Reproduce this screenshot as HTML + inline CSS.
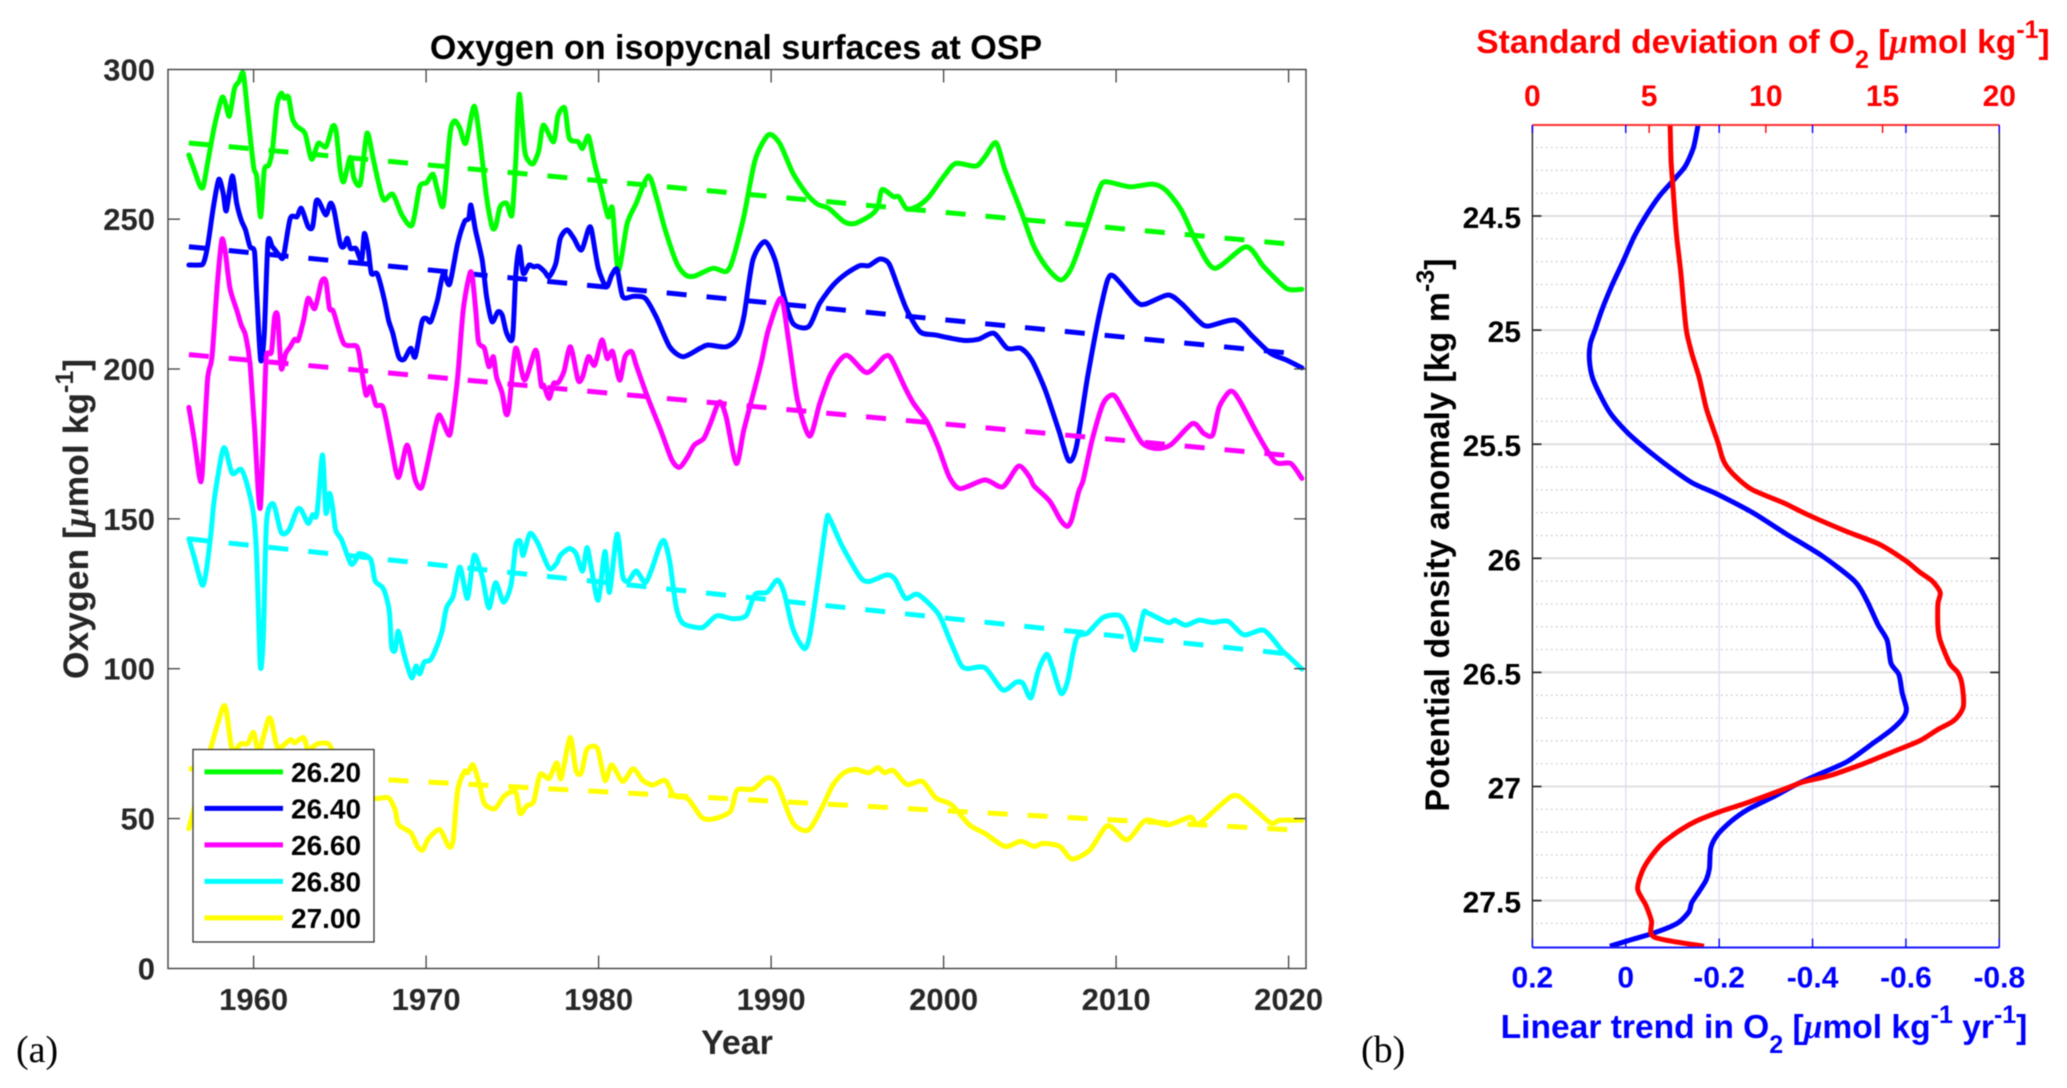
<!DOCTYPE html>
<html>
<head>
<meta charset="utf-8">
<title>Oxygen on isopycnal surfaces at OSP</title>
<style>
html,body{margin:0;padding:0;background:#fff;width:2067px;height:1088px;overflow:hidden}
svg{display:block;filter:blur(0.5px)}
text{font-family:"Liberation Sans",sans-serif;font-weight:bold;white-space:pre}
.mu{font-family:"Liberation Serif",serif;font-style:italic}
.panel-tag{font-family:"Liberation Serif",serif;font-weight:normal;font-size:38px;fill:#000}
</style>
</head>
<body>
<svg id="fig" xmlns="http://www.w3.org/2000/svg" width="2067" height="1088" viewBox="0 0 2067 1088">
  <rect x="0" y="0" width="2067" height="1088" fill="#fff"/>

  <g id="panelA">
    <g id="aMarks"></g>
    <g id="aAxes"></g>
    <text x="736" y="59" font-size="34" text-anchor="middle" fill="#000">Oxygen on isopycnal surfaces at OSP</text>
    <text x="737" y="1054" font-size="34" text-anchor="middle" fill="#262626">Year</text>
    <text transform="translate(88,519) rotate(-90)" font-size="35.5" text-anchor="middle" fill="#262626">Oxygen [<tspan class="mu">μ</tspan>mol kg<tspan font-size="25" dy="-15">-1</tspan><tspan dy="15">]</tspan></text>
    <g id="legend"></g>
    <text class="panel-tag" x="16" y="1062">(a)</text>
  </g>

  <g id="panelB">
    <g id="bGrid"></g>
    <g id="bMarks"></g>
    <g id="bAxes"></g>
    <text x="1763" y="53" font-size="33.6" text-anchor="middle" fill="#f00">Standard deviation of O<tspan font-size="25" dy="15">2</tspan><tspan dy="-15"> [</tspan><tspan class="mu">μ</tspan>mol kg<tspan font-size="25" dy="-15">-1</tspan><tspan dy="15">]</tspan></text>
    <text x="1764" y="1038" font-size="33.6" text-anchor="middle" fill="#00f">Linear trend in O<tspan font-size="25" dy="15">2</tspan><tspan dy="-15"> [</tspan><tspan class="mu">μ</tspan>mol kg<tspan font-size="25" dy="-15">-1</tspan><tspan dy="15"> yr</tspan><tspan font-size="25" dy="-15">-1</tspan><tspan dy="15">]</tspan></text>
    <text transform="translate(1449,535) rotate(-90)" font-size="34" text-anchor="middle" fill="#000">Potential density anomaly [kg m<tspan font-size="25" dy="-15">-3</tspan><tspan dy="15">]</tspan></text>
    <text class="panel-tag" x="1361" y="1062">(b)</text>
  </g>
</svg>

<script>
// ---------- Panel (a) data ----------
var greenYears = [1956.25,1956.56,1956.87,1957.08,1957.33,1957.72,1958.16,1958.37,1958.6,1958.89,1959.15,1959.4,1959.66,1960,1960.18,1960.41,1960.62,1960.88,1961.09,1961.35,1961.6,1961.79,1962.02,1962.25,1962.5,1962.98,1963.36,1963.75,1964.2,1964.58,1964.79,1965.02,1965.23,1965.6,1965.82,1966.19,1966.57,1966.91,1967.25,1967.56,1968.07,1968.6,1969.19,1969.63,1970.02,1970.4,1970.66,1971,1971.39,1971.65,1971.96,1972.3,1972.78,1973.12,1973.5,1973.82,1974.03,1974.29,1974.67,1974.98,1975.2,1975.4,1975.71,1975.97,1976.23,1976.54,1976.8,1977.39,1977.65,1978.04,1978.3,1978.81,1979.07,1979.41,1979.72,1980.11,1980.55,1980.8,1981.14,1981.66,1982.18,1982.88,1983.34,1983.86,1984.54,1985.06,1985.57,1986.61,1987.39,1987.77,1988.42,1989.07,1989.84,1990.49,1991.27,1992.04,1992.69,1993.34,1994.24,1994.89,1995.8,1996.19,1996.44,1997.09,1997.4,1997.87,1998.51,1999.16,2000.07,2000.71,2001.88,2002.4,2003.04,2003.56,2004.47,2005.24,2006.02,2006.8,2007.44,2008.35,2009,2009.38,2010.81,2012.1,2012.88,2013.78,2014.69,2015.72,2017.54,2018.57,2019.87,2020.77];
var greenValues = [271.4,266.4,261.4,260.8,268.6,280.8,290.5,288.6,284.4,293.6,295.9,298.6,285.3,267.5,264.2,250.8,266.4,268,273,288,292,290.3,290.8,283.6,281,278.6,270,275.3,274.2,281,279.2,266.4,262.5,270.6,263.6,261.9,278.6,270.8,261.9,256.4,258.3,251.4,248,260.8,262.1,265,259.7,254.7,278.6,282.8,280.3,275.3,287.7,276.4,257.5,247.5,247.5,254.1,255.3,251.4,269.7,291.7,273,269.2,268.6,273,281.4,275.8,284.7,287,277,275.8,273.6,277.7,269.7,260.8,250.8,253.6,233,248.6,255.3,264.4,257.5,246.4,235.2,231.3,231,233.6,232.5,236.3,250.8,269.7,278.1,275.3,265.3,258.6,255,253.6,249.1,248.6,251.4,254.1,259.9,257.5,257.5,253.4,254.4,257.5,264.7,268.6,267.7,270.8,275.5,266.4,253,240.8,233.6,229.7,234.1,248.6,259.7,262.5,260.8,261.7,259.7,253,241.9,233.6,240.8,234.1,226.9,226.6];

var blueYears = [1956.25,1956.82,1957.08,1957.33,1957.67,1957.98,1958.24,1958.42,1958.76,1959.02,1959.28,1959.53,1959.79,1960.05,1960.18,1960.41,1960.62,1960.83,1961.09,1961.48,1961.73,1962.12,1962.51,1962.77,1963.16,1963.42,1963.62,1963.8,1964.19,1964.45,1964.66,1965.02,1965.23,1965.43,1965.62,1965.93,1966.26,1966.42,1966.65,1966.83,1967.17,1967.56,1967.82,1968.07,1968.41,1968.72,1969.11,1969.37,1969.76,1970.02,1970.27,1970.66,1971,1971.36,1971.83,1972.22,1972.47,1972.6,1972.86,1973.25,1973.51,1973.82,1974.16,1974.41,1974.67,1975.01,1975.19,1975.4,1975.63,1975.97,1976.23,1976.49,1976.87,1977.13,1977.52,1977.78,1978.17,1978.56,1979,1979.41,1979.59,1979.98,1980.45,1980.76,1981.07,1981.4,1982.05,1982.7,1983.34,1984.12,1984.9,1985.88,1986.35,1987.39,1988.03,1988.42,1988.94,1989.64,1990.23,1990.75,1991.27,1992.17,1992.82,1993.6,1994.37,1995.15,1995.67,1996.31,1996.83,1997.35,1997.87,1998.64,1999.55,2001.1,2002.01,2002.91,2003.69,2004.47,2005.11,2005.89,2006.67,2007.26,2007.7,2008.35,2009,2009.51,2009.9,2011.2,2011.71,2013.01,2013.78,2014.82,2015.34,2016.89,2017.92,2018.96,2019.87,2020.77];
var blueValues = [234.7,234.7,235.2,240.8,254.1,263.3,258.6,252.8,264.4,255.3,249.7,246.4,240.8,239.1,225.2,203,211.9,242.1,240.8,238,237.5,250.2,250.8,253.6,247.5,247.5,255.8,255.8,251.4,255.3,253,241.9,240.8,243.6,240.2,240.2,236.3,245.2,239.7,231.9,231.7,223.6,216.3,211.9,204.1,203.2,206.9,204.1,215.8,216.9,215.8,223,231.9,228.3,241.9,249.1,250.2,254.7,246.4,236.3,224.1,215.8,219.1,218,211.9,210.4,230.8,240.8,231.9,234.7,234.1,234.3,232.5,230.8,235.2,243.6,246.4,243.6,239.7,246.6,246.4,233.6,227.4,231.3,233.2,224.1,224.3,223.6,217.4,207.4,204.1,206.9,208,207.4,210.2,217.4,236.3,242.5,236.3,224.1,215.2,214.1,221.9,228,231.9,234.5,234.5,236.7,235.2,227.4,219.7,212.4,211.3,209.6,209.9,211.9,206.9,206.9,203,193,179.6,169.4,174.1,197.4,217.4,229.7,230.8,222.4,221.7,224.7,221.9,215.8,214.3,216.3,210.8,205.2,203,200.4];

var magentaYears = [1956.25,1956.56,1956.87,1957.02,1957.33,1957.59,1957.9,1958.16,1958.37,1958.63,1959.02,1959.28,1959.53,1959.79,1960.05,1960.39,1960.7,1960.83,1961.04,1961.22,1961.4,1961.6,1961.86,1962.12,1962.38,1962.59,1962.9,1963.16,1963.55,1963.93,1964.19,1964.4,1964.63,1965.23,1966,1966.26,1966.52,1966.78,1967.09,1967.51,1967.95,1968.39,1968.9,1969.37,1969.76,1970.27,1970.58,1970.79,1971.26,1971.44,1971.83,1972.16,1972.6,1972.86,1973.04,1973.38,1973.64,1973.9,1974.08,1974.41,1974.62,1974.8,1975.19,1975.71,1976.36,1976.67,1976.82,1977.13,1977.39,1977.65,1977.99,1978.37,1978.81,1979.07,1979.41,1979.77,1980.19,1980.5,1980.81,1981.22,1981.53,1981.92,1982.18,1982.83,1983.6,1984.25,1984.69,1985.16,1985.54,1986.09,1986.48,1987,1987.39,1987.98,1988.42,1989.07,1989.46,1989.84,1990.57,1991.01,1991.53,1992.23,1992.82,1993.47,1994.37,1995.54,1996.57,1996.96,1997.74,1998.26,1999.03,1999.68,2000.33,2000.97,2002.4,2003.43,2004.34,2004.98,2005.24,2006.15,2006.8,2007.18,2007.44,2007.83,2008.09,2008.61,2009.25,2009.85,2010.42,2011.45,2012.23,2013.14,2014.43,2015.08,2015.6,2015.98,2016.63,2017.15,2018.18,2019.22,2020.12,2020.77];
var magentaValues = [187.2,176.3,163.8,165.2,196.3,204.1,228.6,243.2,238.6,226.9,219.7,214.7,211.3,201.9,180.7,153.7,200.8,205.2,205.8,217.4,217.4,200.2,205.2,207.4,209.9,209.7,216.3,223.6,220.2,229.1,229.3,220.2,219.1,208.5,207.4,199.6,191.3,194.1,188,187.2,175.2,163.8,174.6,163,160.7,173.5,181.8,184.6,178.5,179.6,197.4,220.2,232.5,220.8,209.1,206.9,200.8,204.1,197.4,191.9,185.2,186.9,206.9,196.3,206.3,194.6,194.6,190.2,195.2,195.4,199.1,207.4,196.3,197.4,204.1,201.3,209.7,203.5,205.8,196.3,204.1,205.8,201.3,190.8,179.6,169.6,167.2,170.7,174.6,176.8,181.8,189,184.1,168.5,179.6,194.1,203,213,223.6,209.7,189.6,177.6,188.5,198.5,204.6,198.8,204.1,203.5,194.1,188.5,182.4,174.1,164,160.1,163,160.7,167.6,164,161,155.9,149.4,147.5,150,159.1,162.9,176.3,188.5,191.3,186.3,175.7,173.5,174.6,181.8,178.5,178,187.4,192.6,189.6,178.5,169,168.5,163.5];

var cyanYears = [1956.25,1956.56,1957,1957.2,1957.52,1957.72,1958.16,1958.37,1958.76,1959.28,1959.66,1960,1960.18,1960.39,1960.57,1960.75,1961.14,1961.6,1962.04,1962.51,1962.77,1963.16,1963.42,1963.67,1963.99,1964.19,1964.4,1964.58,1964.76,1965.1,1965.62,1965.87,1966.13,1966.78,1967.04,1967.43,1967.61,1967.87,1968,1968.2,1968.39,1968.72,1969.16,1969.42,1969.63,1969.89,1970.22,1970.53,1970.92,1971.18,1971.57,1971.96,1972.4,1972.78,1973.25,1973.64,1974.03,1974.49,1974.93,1975.19,1975.45,1975.63,1976.02,1976.49,1977.13,1977.57,1977.78,1978.3,1978.69,1979.07,1979.33,1979.59,1979.98,1980.37,1980.63,1981.07,1981.4,1981.74,1982.18,1982.7,1983.08,1983.55,1983.81,1984.12,1984.51,1984.9,1985.88,1986.22,1986.87,1987.77,1988.55,1989.07,1989.77,1990.36,1990.75,1991.27,1991.92,1992.25,1992.69,1993.21,1993.39,1994.11,1995.15,1995.67,1996.7,1997.17,1997.79,1998.51,1999.68,2000.33,2000.97,2001.36,2002.4,2003.43,2004.21,2004.6,2005.06,2005.5,2005.97,2006.28,2006.8,2007.18,2007.7,2008.35,2009.25,2010.21,2010.68,2011.07,2011.58,2011.84,2013.01,2013.4,2014.04,2014.82,2015.6,2016.5,2017.41,2018.57,2019.61,2020,2020.77];
var cyanValues = [143.3,137.1,128.1,130.7,144.9,156.5,171.8,173.2,165.2,166.5,160.7,151.4,137.1,100.9,111.3,148.8,155,145.5,146.2,152.9,152.9,148.5,151.4,151.6,171.3,152,158.5,153.9,146.2,143,135.2,135.8,138.4,136.5,129.4,127.4,125.5,119,107.4,106.1,112.5,104.8,97,100.9,98.3,102.2,102.8,106.1,112.5,120.3,124.2,133.9,123.5,137.8,130.7,120.3,128.7,122.2,128.1,141,142.6,137.8,145.1,141.7,133.5,135.2,137.8,140.1,138.4,132.6,140.4,133.2,122.9,139.1,125.5,144.9,130.7,129.4,132.6,128.7,133.2,141,142.6,135.8,120.3,115.1,113.6,114.5,117.7,116.7,117.7,124.8,125.5,129.6,125.5,113.2,106.7,111.3,128.1,149.4,150.1,141,130.7,129.1,131.3,130,123.5,124.8,118.4,110,101.6,100,100.3,92.9,95.5,95.1,90.3,99.6,104.8,100.9,91.8,95.7,110,111.9,117.1,117.7,113.2,106.3,118.4,118.6,115.4,116.2,114.5,116.2,115.4,115.8,111.3,112.8,106.1,104.1,99.9];

var yellowYears = [1956.25,1956.82,1957.46,1958.19,1958.42,1958.76,1959.28,1959.66,1960,1960.31,1960.83,1961.04,1961.4,1962.12,1962.38,1962.9,1963.16,1963.73,1964.32,1964.58,1965.23,1966,1967.04,1967.82,1968.2,1968.41,1969.11,1969.5,1969.81,1970.14,1970.79,1971.31,1971.57,1971.83,1972.22,1972.42,1972.73,1973.12,1973.38,1973.98,1974.54,1975.19,1975.45,1975.84,1976.23,1976.61,1977.13,1977.57,1977.83,1978.35,1978.69,1979,1979.33,1979.93,1980.37,1980.76,1981.4,1982,1982.57,1983.14,1983.86,1984.38,1985.16,1985.96,1986.61,1987.64,1988.03,1988.94,1989.77,1990.36,1991.27,1992.17,1992.95,1993.6,1994.24,1994.89,1995.67,1996.19,1996.57,1997.09,1997.87,1998.77,1999.55,2000.46,2001.49,2002.4,2003.56,2004.47,2005.24,2005.76,2006.74,2007.44,2008.48,2009.51,2010.63,2011.71,2013.01,2014.3,2014.82,2016.76,2017.79,2018.96,2019.48,2020.77];
var yellowValues = [46.6,59.5,72.4,86.7,86,73.1,75,75,78.7,72.4,82.8,82.5,73.7,76.3,75.3,77,73.1,75,75,72.4,64.7,58.2,56.7,56.9,53,47.9,45.3,40.7,39.5,43.3,46.3,40.7,42.7,59.5,65.7,65.3,67.9,60.8,55,53.3,57.6,58.9,51.7,54.3,55.6,64.7,63.4,68.6,63.4,77,66,65.3,73.1,73.4,62.7,67.9,62.4,66.6,62.7,61.2,62.7,57.6,56.7,50.5,49.8,52.4,59.5,59.8,63.6,61.4,48.5,46.2,53.7,61.4,65.3,66.4,65.3,67,65.3,66,61.4,62.4,56.9,54.6,47.9,45,40.7,42.4,40.7,41.7,40.7,36.5,39.5,47.6,42.9,49.4,47.9,50.5,48.3,57.6,54.3,48.5,49.4,49.4];

var trendYears = [1956.25, 2020.2];
var greenTrend = [275.4, 241.6];
var blueTrend = [240.8, 205.2];
var magentaTrend = [204.8, 171];
var cyanTrend = [143.3, 104.8];
var yellowTrend = [66.6, 46.2];

var legendLabels = ["26.20","26.40","26.60","26.80","27.00"];
var yearTicks = [1960,1970,1980,1990,2000,2010,2020];
var oxygenTicks = [0,50,100,150,200,250,300];

// ---------- Panel (b) data ----------
var stdValues = [5.9,5.94,6.02,6.1,6.19,6.35,6.49,6.61,6.85,7.15,7.44,7.7,7.94,8.14,8.34,8.79,9.43,10.82,11.81,13.4,14.89,15.98,16.58,17.13,17.47,17.37,17.37,17.47,17.87,18.22,18.4,18.46,18.07,17.37,16.58,15.39,14.19,12.81,11.61,10.82,9.23,8.04,7.05,6.35,5.56,5.06,4.71,4.51,4.86,5.1,5.22,7.35];
var stdDensity = [24.1,24.26,24.37,24.49,24.6,24.74,24.9,25.01,25.11,25.21,25.34,25.42,25.49,25.56,25.6,25.65,25.7,25.76,25.81,25.88,25.94,26.01,26.06,26.1,26.15,26.2,26.3,26.36,26.46,26.5,26.55,26.65,26.71,26.75,26.8,26.85,26.9,26.95,26.98,27.01,27.07,27.11,27.15,27.19,27.25,27.31,27.37,27.45,27.52,27.59,27.66,27.7];
var trendValues = [-0.155,-0.145,-0.128,-0.108,-0.073,-0.043,-0.018,0.006,0.031,0.051,0.066,0.076,0.078,0.071,0.051,0.031,-0.004,-0.043,-0.093,-0.143,-0.197,-0.272,-0.341,-0.421,-0.49,-0.515,-0.54,-0.56,-0.568,-0.585,-0.592,-0.601,-0.594,-0.57,-0.53,-0.475,-0.421,-0.366,-0.321,-0.262,-0.227,-0.197,-0.182,-0.179,-0.172,-0.157,-0.141,-0.135,-0.11,-0.063,-0.014,0.034];
var trendDensity = [24.1,24.2,24.28,24.33,24.41,24.5,24.59,24.7,24.81,24.91,25,25.06,25.13,25.21,25.3,25.37,25.45,25.52,25.6,25.67,25.72,25.8,25.89,25.99,26.1,26.18,26.29,26.36,26.46,26.51,26.59,26.66,26.7,26.75,26.81,26.89,26.94,26.99,27.04,27.1,27.15,27.21,27.27,27.36,27.41,27.46,27.51,27.55,27.6,27.64,27.67,27.7];

var densityTicks = [24.5,25,25.5,26,26.5,27,27.5];
var densityTickLabels = ["24.5","25","25.5","26","26.5","27","27.5"];
var densityMinor = [24.2,24.3,24.4,24.6,24.7,24.8,24.9,25.1,25.2,25.3,25.4,25.6,25.7,25.8,25.9,26.1,26.2,26.3,26.4,26.6,26.7,26.8,26.9,27.1,27.2,27.3,27.4,27.6];
var stdTicks = [0,5,10,15,20];
var trendTicks = [0.2,0,-0.2,-0.4,-0.6,-0.8];

// ---------- Axis functions ----------
function xA(year){ return 253.6 + (year - 1960) * 17.25; }
function yA(v){ return 968.4 - v * 2.997; }
function xStd(v){ return 1532.4 + v * 23.345; }
function xTrend(v){ return 1532.4 + (0.2 - v) * 466.9; }
function yB(d){ return 216 + (d - 24.5) * 228.2; }

var NS = 'http://www.w3.org/2000/svg';
function make(parent, tag, attrs){
  var el = document.createElementNS(NS, tag);
  for (var k in attrs){ el.setAttribute(k, attrs[k]); }
  parent.appendChild(el);
  return el;
}
function pts(xs, ys, fx, fy){
  var out = [];
  for (var i = 0; i < xs.length; i++){ out.push(fx(xs[i]).toFixed(1) + ',' + fy(ys[i]).toFixed(1)); }
  return out.join(' ');
}
function smoothPath(xs, ys, fx, fy){
  var P = [];
  for (var i = 0; i < xs.length; i++){ P.push([fx(xs[i]), fy(ys[i])]); }
  var k = 0.13;
  var d = 'M' + P[0][0].toFixed(1) + ' ' + P[0][1].toFixed(1);
  for (var j = 0; j < P.length - 1; j++){
    var p0 = P[j - 1] || P[j], p1 = P[j], p2 = P[j + 1], p3 = P[j + 2] || P[j + 1];
    d += 'C' + (p1[0] + (p2[0] - p0[0]) * k).toFixed(1) + ' ' + (p1[1] + (p2[1] - p0[1]) * k).toFixed(1) + ' ' +
         (p2[0] - (p3[0] - p1[0]) * k).toFixed(1) + ' ' + (p2[1] - (p3[1] - p1[1]) * k).toFixed(1) + ' ' +
         p2[0].toFixed(1) + ' ' + p2[1].toFixed(1);
  }
  return d;
}

// ---------- Panel (a) marks ----------
var aMarks = document.getElementById('aMarks');
var aSeries = [
  {name:'26-20', color:'#00ff00', yrs:greenYears, vals:greenValues, tr:greenTrend},
  {name:'26-40', color:'#0000ff', yrs:blueYears, vals:blueValues, tr:blueTrend},
  {name:'26-60', color:'#ff00ff', yrs:magentaYears, vals:magentaValues, tr:magentaTrend},
  {name:'26-80', color:'#00ffff', yrs:cyanYears, vals:cyanValues, tr:cyanTrend},
  {name:'27-00', color:'#ffff00', yrs:yellowYears, vals:yellowValues, tr:yellowTrend}
];
aSeries.forEach(function(s){
  var line = make(aMarks, 'path', {d:smoothPath(s.yrs, s.vals, xA, yA), fill:'none', stroke:s.color, 'stroke-width':5, 'stroke-linejoin':'round', 'stroke-linecap':'round'});
  
  
  var dash = make(aMarks, 'polyline', {points:pts(trendYears, s.tr, xA, yA), fill:'none', stroke:s.color, 'stroke-width':5, 'stroke-dasharray':'20 20'});
  
  
});

// ---------- Panel (a) axes ----------
var aAxes = document.getElementById('aAxes');
var aBox = make(aAxes, 'rect', {x:168, y:69.5, width:1138, height:899, fill:'none', stroke:'#404040', 'stroke-width':1.4});


yearTicks.forEach(function(t){
  var x = xA(t);
  var tb = make(aAxes, 'line', {x1:x, x2:x, y1:968.5, y2:955.5, stroke:'#404040', 'stroke-width':1.3});
  
  
  var tt = make(aAxes, 'line', {x1:x, x2:x, y1:69.5, y2:82.5, stroke:'#404040', 'stroke-width':1.3});
  
  
  var lab = make(aAxes, 'text', {x:x, y:1010, 'font-size':31, 'text-anchor':'middle', fill:'#262626'});
  
  
  lab.textContent = String(t);
});
oxygenTicks.forEach(function(t){
  var y = yA(t);
  if (t !== 0 && t !== 300){
    var tl = make(aAxes, 'line', {x1:168, x2:180, y1:y, y2:y, stroke:'#404040', 'stroke-width':1.3});
    
    
    var tr = make(aAxes, 'line', {x1:1306, x2:1294, y1:y, y2:y, stroke:'#404040', 'stroke-width':1.3});
    
    
  }
  var lab = make(aAxes, 'text', {x:155, y:y + 11, 'font-size':31, 'text-anchor':'end', fill:'#262626'});
  
  
  lab.textContent = String(t);
});

// ---------- Legend ----------
var legend = document.getElementById('legend');
var legBox = make(legend, 'rect', {x:193, y:749.5, width:181, height:192.5, fill:'#fff', stroke:'#333', 'stroke-width':1.3});


legendLabels.forEach(function(lbl, i){
  var y = 771.9 + i * 36.5;
  var sw = make(legend, 'line', {x1:204.5, x2:283, y1:y, y2:y, stroke:aSeries[i].color, 'stroke-width':5});
  
  
  var tx = make(legend, 'text', {x:291, y:y + 10, 'font-size':28, fill:'#000'});
  
  
  tx.textContent = lbl;
});

// ---------- Panel (b) grid ----------
var bGrid = document.getElementById('bGrid');
densityMinor.forEach(function(d){
  var y = yB(d);
  var g = make(bGrid, 'line', {x1:1536, x2:1997, y1:y, y2:y, stroke:'#c4c4c4', 'stroke-width':1.2, 'stroke-dasharray':'1.5 3.5'});
  
  
});
densityTicks.forEach(function(d){
  var y = yB(d);
  var g = make(bGrid, 'line', {x1:1532.4, x2:1999.3, y1:y, y2:y, stroke:'#e0e0e0', 'stroke-width':2});
  
  
});
trendTicks.forEach(function(v){
  if (v === 0.2 || v === -0.8) { return; }
  var x = xTrend(v);
  var g = make(bGrid, 'line', {x1:x, x2:x, y1:125, y2:947.5, stroke:'#dcdcf8', 'stroke-width':1.3});
  
  
});

// ---------- Panel (b) marks ----------
var bMarks = document.getElementById('bMarks');
var trendProfile = make(bMarks, 'path', {d:smoothPath(trendValues, trendDensity, xTrend, yB), fill:'none', stroke:'#0000ff', 'stroke-width':5, 'stroke-linejoin':'round'});


var stdProfile = make(bMarks, 'path', {d:smoothPath(stdValues, stdDensity, xStd, yB), fill:'none', stroke:'#ff0000', 'stroke-width':5, 'stroke-linejoin':'round'});



// ---------- Panel (b) axes ----------
var bAxes = document.getElementById('bAxes');
var bl = make(bAxes, 'line', {x1:1532.4, x2:1532.4, y1:125, y2:947.5, stroke:'#222', 'stroke-width':1.4});


var br = make(bAxes, 'line', {x1:1999.3, x2:1999.3, y1:125, y2:947.5, stroke:'#222', 'stroke-width':1.4});


var bt = make(bAxes, 'line', {x1:1532.4, x2:1999.3, y1:125, y2:125, stroke:'#ff3030', 'stroke-width':2});


var bb = make(bAxes, 'line', {x1:1532.4, x2:1999.3, y1:947.5, y2:947.5, stroke:'#1a1aff', 'stroke-width':2});



densityTicks.forEach(function(d, i){
  var y = yB(d);
  var a = make(bAxes, 'line', {x1:1532.4, x2:1541.5, y1:y, y2:y, stroke:'#222', 'stroke-width':1.6});
  
  
  var b = make(bAxes, 'line', {x1:1999.3, x2:1990.2, y1:y, y2:y, stroke:'#222', 'stroke-width':1.6});
  
  
  var lab = make(bAxes, 'text', {x:1521, y:y + 12, 'font-size':30, 'text-anchor':'end', fill:'#000'});
  
  
  lab.textContent = densityTickLabels[i];
});
stdTicks.forEach(function(v){
  var x = xStd(v);
  var a = make(bAxes, 'line', {x1:x, x2:x, y1:125, y2:133, stroke:'#ff0000', 'stroke-width':1.4});
  
  
  var lab = make(bAxes, 'text', {x:x, y:106, 'font-size':30, 'text-anchor':'middle', fill:'#f00'});
  
  
  lab.textContent = String(v);
});
trendTicks.forEach(function(v){
  var x = xTrend(v);
  var a = make(bAxes, 'line', {x1:x, x2:x, y1:947.5, y2:938.5, stroke:'#0000ff', 'stroke-width':1.4});
  
  
  var b = make(bAxes, 'line', {x1:x, x2:x, y1:125, y2:133, stroke:'#0000ff', 'stroke-width':1.4});
  
  
  var lab = make(bAxes, 'text', {x:x, y:987.5, 'font-size':30, 'text-anchor':'middle', fill:'#00f'});
  
  
  lab.textContent = String(v);
});
</script>
</body>
</html>
